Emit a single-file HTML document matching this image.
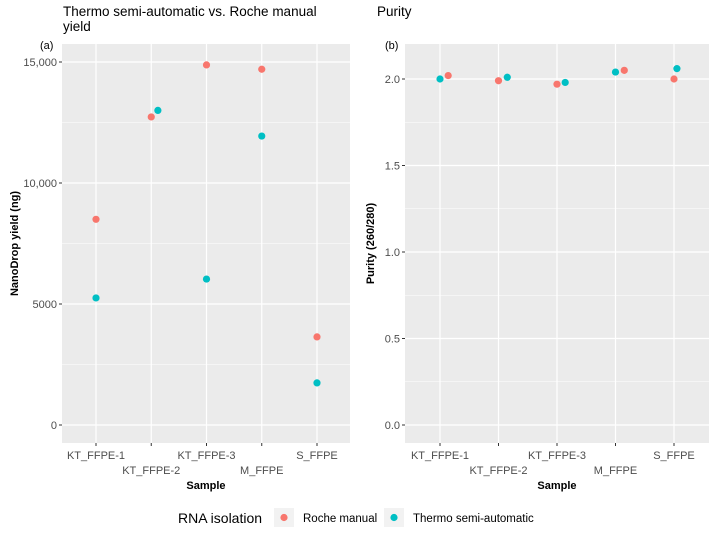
<!DOCTYPE html>
<html><head><meta charset="utf-8"><style>
body{margin:0;background:#fff}
svg{display:block;font-family:"Liberation Sans",Arial,sans-serif}
</style></head><body>
<svg id="c" width="721" height="535"></svg>
<script>
const categories=["KT_FFPE-1","KT_FFPE-2","KT_FFPE-3","M_FFPE","S_FFPE"];
const yieldRoche=[8500,12730,14880,14700,3640];
const yieldThermo=[5250,13000,6030,11940,1740];
const jitterYieldRoche=[0,0,0,0,0];
const jitterYieldThermo=[0,0.12,0,0,0];
const purityRoche=[2.02,1.99,1.97,2.05,2.00];
const purityThermo=[2.00,2.01,1.98,2.04,2.06];
const jitterPurityRoche=[0.14,0,0,0.15,0];
const jitterPurityThermo=[0,0.15,0.14,0,0.05];
const yieldTicks=[0,5000,10000,15000];
const yieldTickLabels=["0","5000","10,000","15,000"];
const purityTicks=[0,0.5,1.0,1.5,2.0];
const purityTickLabels=["0.0","0.5","1.0","1.5","2.0"];
const RED="#F8766D",TEAL="#00BFC4";
const svg=document.getElementById('c');
const NS="http://www.w3.org/2000/svg";
function mk(tag,at,parent){const e=document.createElementNS(NS,tag);for(const k in at)e.setAttribute(k,at[k]);(parent||svg).appendChild(e);return e;}
function txt(s,at,parent){const e=mk('text',at,parent);e.textContent=s;return e;}

function panel(opt){
  const g=mk('g',{});
  
  
  const {x0,x1,yTop,yBot,y0px,pxPerUnit,xFirst,xStep}=opt;
  const ys=v=>y0px-v*pxPerUnit;
  const xs=i=>xFirst+i*xStep;
  const bg=mk('rect',{x:x0,y:yTop,width:x1-x0,height:yBot-yTop,fill:"#EBEBEB"},g);
  
  
  const step=opt.ticks[1]-opt.ticks[0];
  for(let m=opt.ticks[0]+step/2;ys(m)>yTop;m+=step){
    mk('line',{x1:x0,x2:x1,y1:ys(m),y2:ys(m),stroke:"#fff","stroke-width":0.6},g);
  }
  opt.ticks.forEach((t,i)=>{
    const y=ys(t);
    const gl=mk('line',{x1:x0,x2:x1,y1:y,y2:y,stroke:"#fff","stroke-width":1.2},g);
    
    
    mk('line',{x1:x0-3,x2:x0,y1:y,y2:y,stroke:"#333","stroke-width":1},g);
    const lb=txt(opt.tickLabels[i],{x:x0-5,y:y+4,"text-anchor":"end","font-size":11,fill:"#4D4D4D"},g);
    
    
  });
  categories.forEach((c,i)=>{
    const x=xs(i);
    mk('line',{x1:x,x2:x,y1:yTop,y2:yBot,stroke:"#fff","stroke-width":1.2},g);
    mk('line',{x1:x,x2:x,y1:yBot,y2:yBot+3,stroke:"#333","stroke-width":1},g);
    const lb=txt(c,{x:x,y:i%2?474:459,"text-anchor":"middle","font-size":11,fill:"#4D4D4D"},g);
    
    
  });
  opt.series.forEach(s=>{
    s.vals.forEach((v,i)=>{
      const p=mk('circle',{cx:xs(i+s.jit[i]),cy:ys(v),r:3.6,fill:s.color},g);
      
      
    });
  });
  const xt=txt("Sample",{x:(x0+x1)/2,y:489,"text-anchor":"middle","font-size":11,"font-weight":"bold",fill:"#000"},g);
  
  
  const cy=(yTop+yBot)/2;
  const yt=txt(opt.ytitle,{x:opt.ytx,y:cy,"text-anchor":"middle","font-size":11,"font-weight":"bold",fill:"#000",transform:`rotate(-90 ${opt.ytx} ${cy})`},g);
  
  
  const tag=txt(opt.tag,{x:opt.tagx,y:49,"font-size":11,fill:"#000"},g);
  
  
  opt.title.forEach((t,i)=>{
    const tt=txt(t,{x:opt.titlex,y:16+i*15,"font-size":13.5,fill:"#000"},g);
    
    
  });
}
panel({name:'yield-panel',x0:62,x1:350,yTop:44,yBot:443,y0px:425,pxPerUnit:(425-62)/15000,xFirst:96,xStep:55.25,
  ticks:yieldTicks,tickLabels:yieldTickLabels,ytitle:"NanoDrop yield (ng)",ytx:18,tag:"(a)",tagx:40,titlex:63,
  title:["Thermo semi-automatic vs. Roche manual","yield"],
  series:[{vals:yieldRoche,jit:jitterYieldRoche,color:RED,pname:'point-roche'},{vals:yieldThermo,jit:jitterYieldThermo,color:TEAL,pname:'point-thermo'}]});
panel({name:'purity-panel',x0:405,x1:709,yTop:44,yBot:443,y0px:425,pxPerUnit:(425-79)/2,xFirst:440,xStep:58.5,
  ticks:purityTicks,tickLabels:purityTickLabels,ytitle:"Purity (260/280)",ytx:374,tag:"(b)",tagx:385,titlex:377,
  title:["Purity"],
  series:[{vals:purityRoche,jit:jitterPurityRoche,color:RED,pname:'point-roche'},{vals:purityThermo,jit:jitterPurityThermo,color:TEAL,pname:'point-thermo'}]});

const lg=mk('g',{});


const lt=txt("RNA isolation",{x:178,y:523,"font-size":14,fill:"#000"},lg);


const b1=mk('rect',{x:274,y:508,width:20,height:19,fill:"#F2F2F2"},lg);


const e1=mk('circle',{cx:284,cy:517.5,r:3.6,fill:RED},lg);


const l1=txt("Roche manual",{x:303,y:522,"font-size":11.5,fill:"#000"},lg);


const b2=mk('rect',{x:384,y:508,width:20,height:19,fill:"#F2F2F2"},lg);


const e2=mk('circle',{cx:394,cy:517.5,r:3.6,fill:TEAL},lg);


const l2=txt("Thermo semi-automatic",{x:413,y:522,"font-size":11.5,fill:"#000"},lg);


</script>
</body></html>
